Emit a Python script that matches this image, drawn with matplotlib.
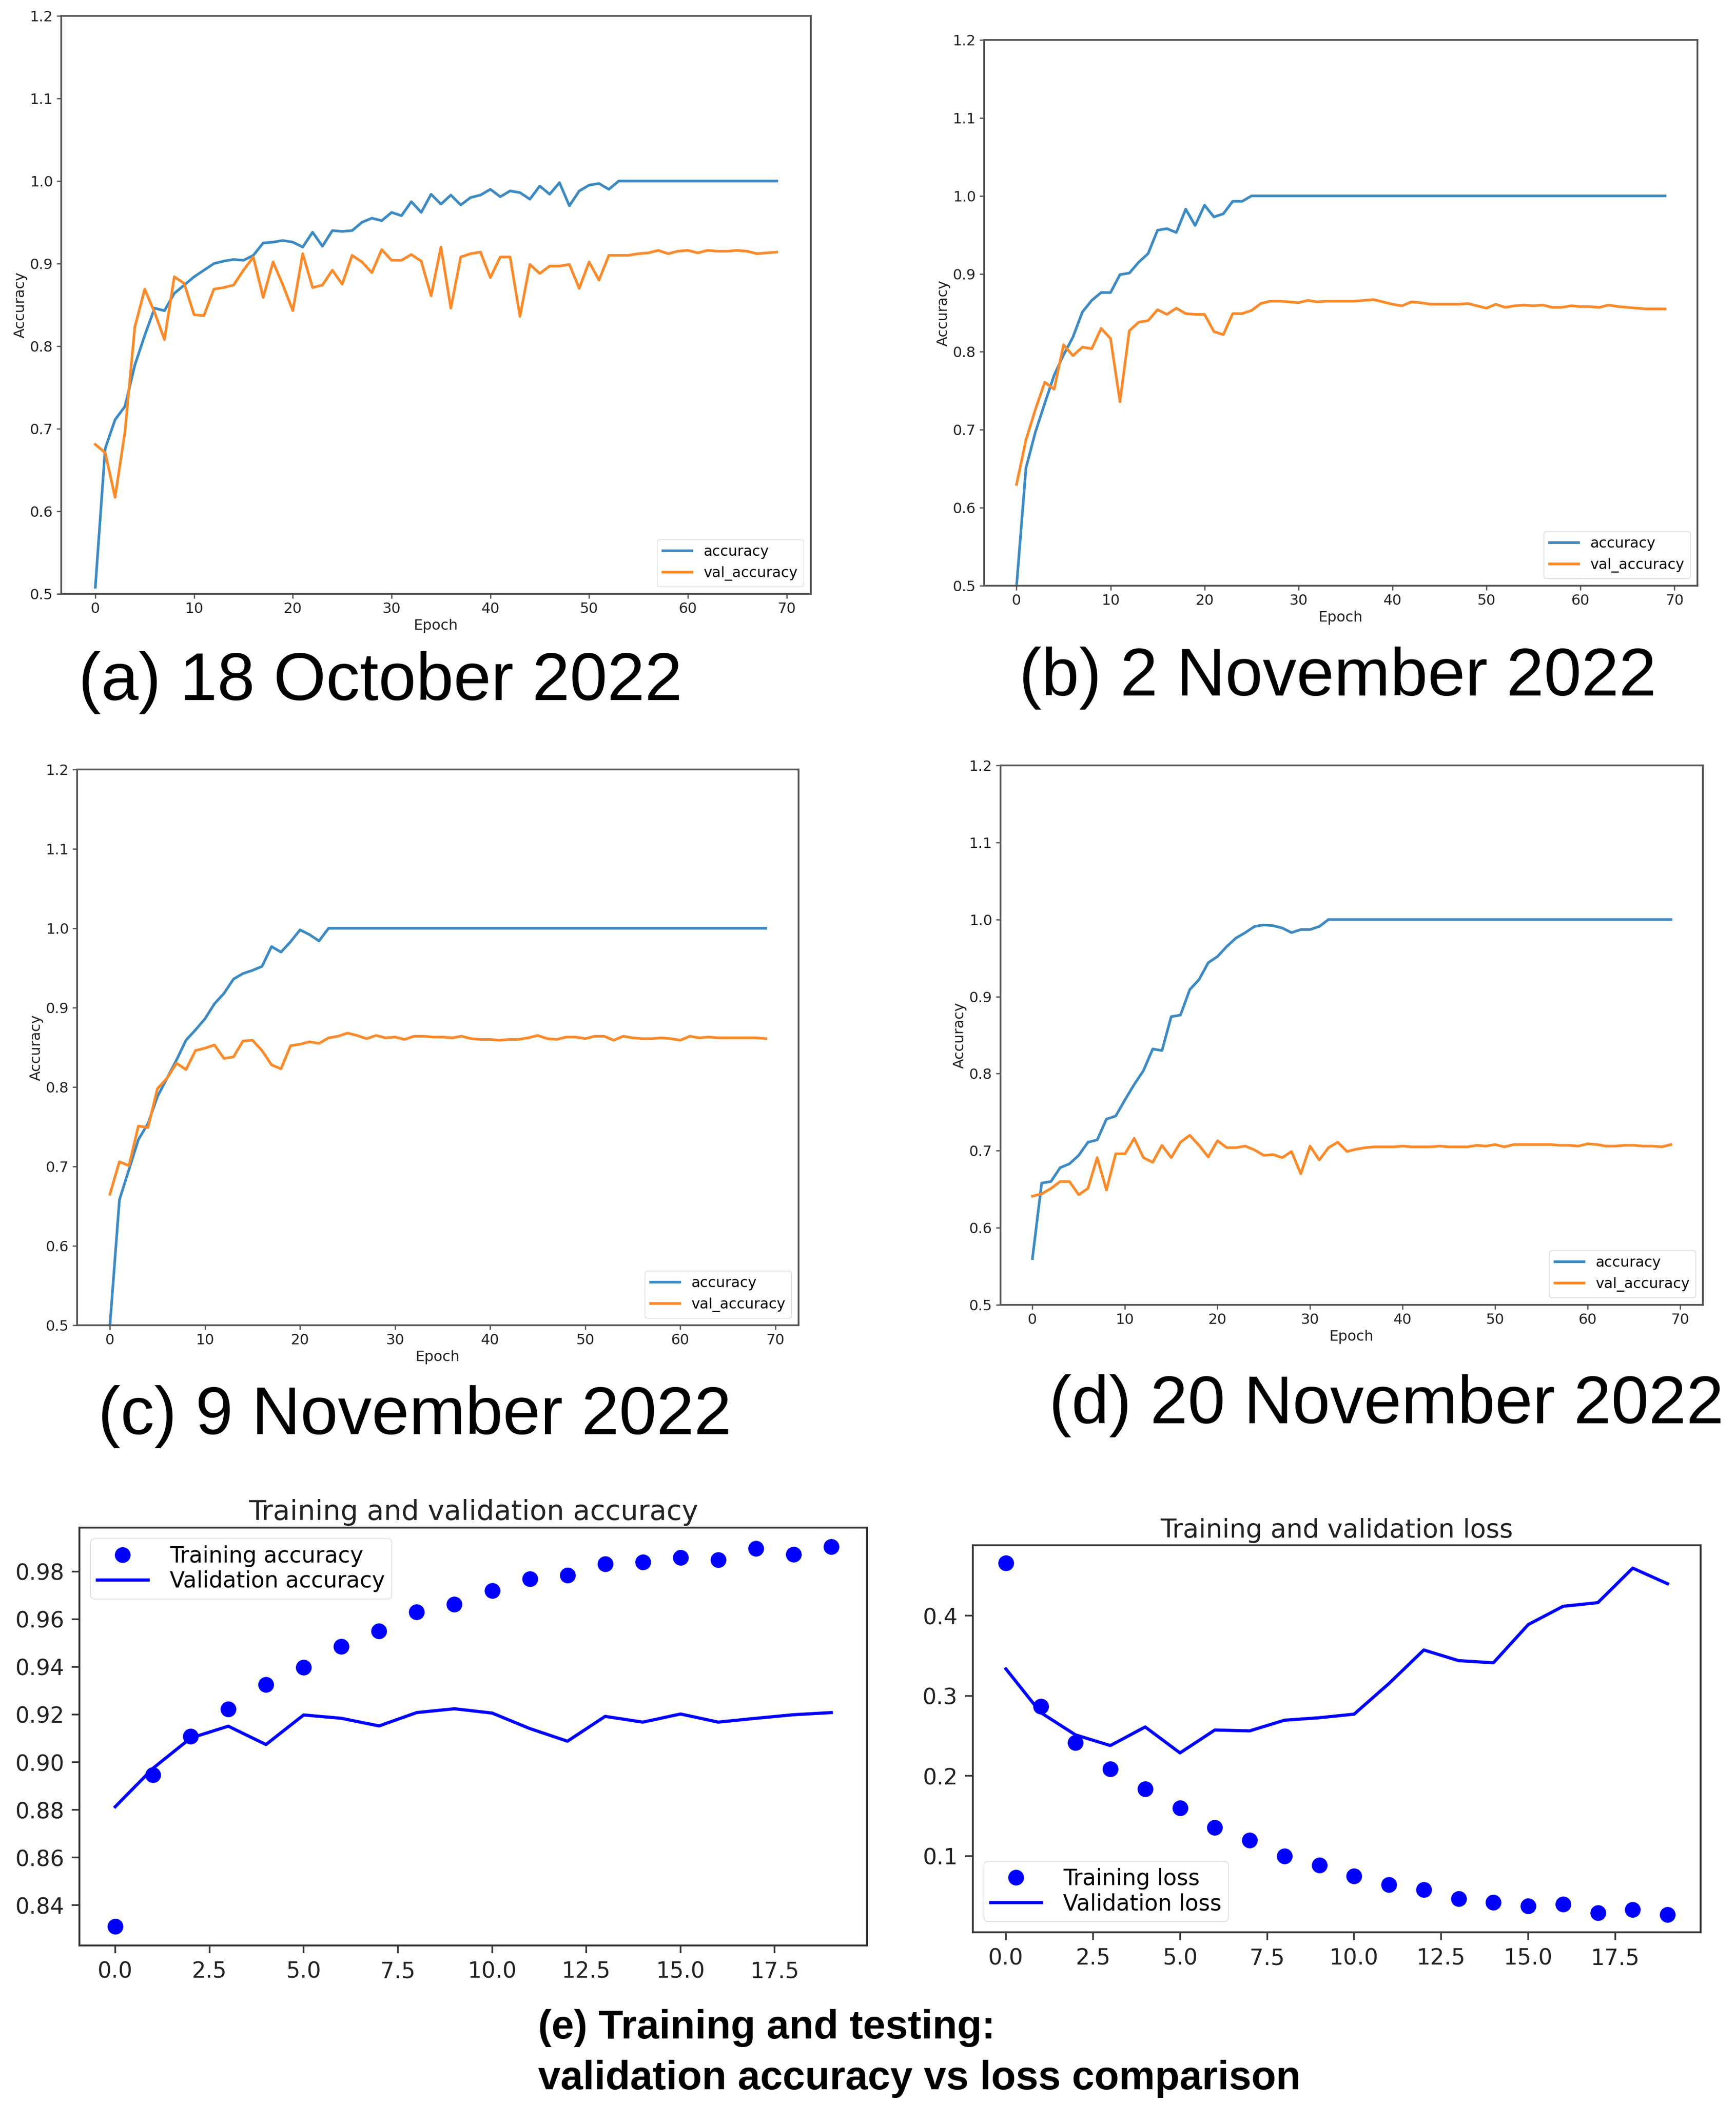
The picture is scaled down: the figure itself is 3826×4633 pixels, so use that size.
import matplotlib
matplotlib.use('Agg')
import matplotlib.pyplot as plt
import numpy as np

# ---------------- data ----------------
epochs70 = list(range(70))
epochs20 = list(range(20))

acc_ticks_x = [0, 10, 20, 30, 40, 50, 60, 70]
acc_ticks_y = [0.5, 0.6, 0.7, 0.8, 0.9, 1.0, 1.1, 1.2]

acc_a = [0.508, 0.676, 0.711, 0.727, 0.777, 0.813, 0.846, 0.843, 0.864, 0.874,
         0.884, 0.892, 0.900, 0.903, 0.905, 0.904, 0.910, 0.925, 0.926, 0.928,
         0.926, 0.920, 0.938, 0.921, 0.940, 0.939, 0.940, 0.950, 0.955, 0.952,
         0.962, 0.958, 0.975, 0.962, 0.984, 0.972, 0.983, 0.971, 0.980, 0.983,
         0.990, 0.981, 0.988, 0.986, 0.978, 0.994, 0.984, 0.998, 0.970, 0.988,
         0.995, 0.997, 0.990, 1.000, 1.000, 1.000, 1.000, 1.000, 1.000, 1.000,
         1.000, 1.000, 1.000, 1.000, 1.000, 1.000, 1.000, 1.000, 1.000, 1.000]
val_a = [0.681, 0.671, 0.617, 0.696, 0.823, 0.869, 0.841, 0.808, 0.884, 0.876,
         0.838, 0.837, 0.869, 0.871, 0.874, 0.892, 0.908, 0.859, 0.902, 0.874,
         0.843, 0.912, 0.871, 0.874, 0.892, 0.875, 0.910, 0.902, 0.889, 0.917,
         0.904, 0.904, 0.911, 0.903, 0.861, 0.920, 0.846, 0.908, 0.912, 0.914,
         0.883, 0.908, 0.908, 0.836, 0.899, 0.888, 0.897, 0.897, 0.899, 0.870,
         0.902, 0.880, 0.910, 0.910, 0.910, 0.912, 0.913, 0.916, 0.912, 0.915,
         0.916, 0.913, 0.916, 0.915, 0.915, 0.916, 0.915, 0.912, 0.913, 0.914]

acc_b = [0.500, 0.651, 0.697, 0.734, 0.770, 0.796, 0.819, 0.851, 0.866, 0.876,
         0.876, 0.899, 0.901, 0.915, 0.926, 0.956, 0.958, 0.953, 0.983, 0.962,
         0.988, 0.973, 0.977, 0.993, 0.993, 1.000, 1.000, 1.000, 1.000, 1.000,
         1.000, 1.000, 1.000, 1.000, 1.000, 1.000, 1.000, 1.000, 1.000, 1.000,
         1.000, 1.000, 1.000, 1.000, 1.000, 1.000, 1.000, 1.000, 1.000, 1.000,
         1.000, 1.000, 1.000, 1.000, 1.000, 1.000, 1.000, 1.000, 1.000, 1.000,
         1.000, 1.000, 1.000, 1.000, 1.000, 1.000, 1.000, 1.000, 1.000, 1.000]
val_b = [0.630, 0.687, 0.726, 0.761, 0.752, 0.809, 0.795, 0.806, 0.804, 0.830,
         0.817, 0.736, 0.827, 0.838, 0.840, 0.854, 0.848, 0.856, 0.849, 0.848,
         0.848, 0.826, 0.822, 0.849, 0.849, 0.853, 0.862, 0.865, 0.865, 0.864,
         0.863, 0.866, 0.864, 0.865, 0.865, 0.865, 0.865, 0.866, 0.867, 0.864,
         0.861, 0.859, 0.864, 0.863, 0.861, 0.861, 0.861, 0.861, 0.862, 0.859,
         0.856, 0.861, 0.857, 0.859, 0.860, 0.859, 0.860, 0.857, 0.857, 0.859,
         0.858, 0.858, 0.857, 0.860, 0.858, 0.857, 0.856, 0.855, 0.855, 0.855]

acc_c = [0.500, 0.658, 0.696, 0.734, 0.754, 0.788, 0.811, 0.834, 0.859, 0.872,
         0.886, 0.905, 0.918, 0.936, 0.943, 0.947, 0.952, 0.977, 0.970, 0.983,
         0.998, 0.992, 0.984, 1.000, 1.000, 1.000, 1.000, 1.000, 1.000, 1.000,
         1.000, 1.000, 1.000, 1.000, 1.000, 1.000, 1.000, 1.000, 1.000, 1.000,
         1.000, 1.000, 1.000, 1.000, 1.000, 1.000, 1.000, 1.000, 1.000, 1.000,
         1.000, 1.000, 1.000, 1.000, 1.000, 1.000, 1.000, 1.000, 1.000, 1.000,
         1.000, 1.000, 1.000, 1.000, 1.000, 1.000, 1.000, 1.000, 1.000, 1.000]
val_c = [0.665, 0.706, 0.701, 0.751, 0.749, 0.798, 0.811, 0.830, 0.822, 0.846,
         0.849, 0.853, 0.836, 0.838, 0.858, 0.859, 0.846, 0.828, 0.823, 0.852,
         0.854, 0.857, 0.855, 0.862, 0.864, 0.868, 0.865, 0.861, 0.865, 0.862,
         0.863, 0.860, 0.864, 0.864, 0.863, 0.863, 0.862, 0.864, 0.861, 0.860,
         0.860, 0.859, 0.860, 0.860, 0.862, 0.865, 0.861, 0.860, 0.863, 0.863,
         0.861, 0.864, 0.864, 0.859, 0.864, 0.862, 0.861, 0.861, 0.862, 0.861,
         0.859, 0.864, 0.862, 0.863, 0.862, 0.862, 0.862, 0.862, 0.862, 0.861]

acc_d = [0.560, 0.658, 0.660, 0.678, 0.683, 0.694, 0.711, 0.714, 0.741, 0.745,
         0.766, 0.786, 0.804, 0.832, 0.830, 0.874, 0.876, 0.909, 0.922, 0.944,
         0.952, 0.965, 0.976, 0.983, 0.991, 0.993, 0.992, 0.989, 0.983, 0.987,
         0.987, 0.991, 1.000, 1.000, 1.000, 1.000, 1.000, 1.000, 1.000, 1.000,
         1.000, 1.000, 1.000, 1.000, 1.000, 1.000, 1.000, 1.000, 1.000, 1.000,
         1.000, 1.000, 1.000, 1.000, 1.000, 1.000, 1.000, 1.000, 1.000, 1.000,
         1.000, 1.000, 1.000, 1.000, 1.000, 1.000, 1.000, 1.000, 1.000, 1.000]
val_d = [0.641, 0.644, 0.651, 0.660, 0.660, 0.643, 0.651, 0.691, 0.649, 0.696,
         0.696, 0.716, 0.691, 0.685, 0.707, 0.691, 0.711, 0.720, 0.707, 0.692,
         0.713, 0.704, 0.704, 0.706, 0.701, 0.694, 0.695, 0.691, 0.699, 0.670,
         0.706, 0.688, 0.704, 0.711, 0.699, 0.702, 0.704, 0.705, 0.705, 0.705,
         0.706, 0.705, 0.705, 0.705, 0.706, 0.705, 0.705, 0.705, 0.707, 0.706,
         0.708, 0.705, 0.708, 0.708, 0.708, 0.708, 0.708, 0.707, 0.707, 0.706,
         0.709, 0.708, 0.706, 0.706, 0.707, 0.707, 0.706, 0.706, 0.705, 0.708]

train_acc = [0.8311, 0.8947, 0.9108, 0.9222, 0.9326, 0.9398, 0.9485, 0.9550, 0.9630, 0.9663,
             0.9720, 0.9768, 0.9784, 0.9831, 0.9840, 0.9858, 0.9848, 0.9896, 0.9871, 0.9904]
val_acc_e = [0.8813, 0.8974, 0.9101, 0.9151, 0.9074, 0.9198, 0.9184, 0.9152, 0.9208, 0.9224,
             0.9206, 0.9141, 0.9088, 0.9192, 0.9168, 0.9202, 0.9168, 0.9184, 0.9199, 0.9208]
train_loss = [0.466, 0.2868, 0.2418, 0.2086, 0.1838, 0.1602, 0.1354, 0.1198, 0.1000, 0.0885,
              0.0752, 0.0645, 0.058, 0.0466, 0.042, 0.0378, 0.040, 0.0294, 0.0332, 0.0268]
val_loss = [0.3337, 0.2791, 0.2513, 0.238, 0.2612, 0.2288, 0.2574, 0.2563, 0.2696, 0.2727,
            0.2772, 0.3154, 0.3573, 0.344, 0.3413, 0.389, 0.4118, 0.4164, 0.4595, 0.44]

e_ticks_x = [0.0, 2.5, 5.0, 7.5, 10.0, 12.5, 15.0, 17.5]
e_ticks_y = [0.84, 0.86, 0.88, 0.90, 0.92, 0.94, 0.96, 0.98]
f_ticks_y = [0.1, 0.2, 0.3, 0.4]

captions = ["(a) 18 October 2022", "(b) 2 November 2022",
            "(c) 9 November 2022", "(d) 20 November 2022"]
caption_e = ["(e) Training and testing:", "validation accuracy vs loss comparison"]

# ---------------- layout ----------------
W, H = 3826, 4633
fig = plt.figure(figsize=(W / 100, H / 100), dpi=100)
fig.patch.set_facecolor('white')


def rect(l, t, r, b):
    return [l / W, 1 - b / H, (r - l) / W, (b - t) / H]


BLUE = '#3d8ac3'
ORANGE = '#fa8a2a'
SPINE = '#555555'
FS = 23


def acc_panel(r, acc, val):
    ax = fig.add_axes(r)
    ax.plot(epochs70, acc, color=BLUE, lw=4.2, label='accuracy')
    ax.plot(epochs70, val, color=ORANGE, lw=4.2, label='val_accuracy')
    ax.set_ylim(0.5, 1.2)
    ax.set_xticks(acc_ticks_x)
    ax.set_yticks(acc_ticks_y)
    ax.set_xlabel('Epoch', fontsize=FS, color='#222222')
    ax.set_ylabel('Accuracy', fontsize=FS, color='#222222')
    ax.tick_params(labelsize=FS, length=7, width=2, color=SPINE,
                   labelcolor='#222222', pad=6)
    for s in ax.spines.values():
        s.set_linewidth(2.8)
        s.set_color(SPINE)
    ax.legend(loc='lower right', fontsize=FS)
    return ax


acc_panel(rect(135, 35, 1787, 1309), acc_a, val_a)
acc_panel(rect(2169, 88, 3741, 1291), acc_b, val_b)
acc_panel(rect(170, 1696, 1760, 2921), acc_c, val_c)
acc_panel(rect(2205, 1687, 3753, 2876), acc_d, val_d)

cap_font = dict(family='Liberation Sans', fontsize=107, color='black',
                ha='center', va='center')
fig.text(838 / W, 1 - 1504 / H, captions[0], **cap_font)
fig.text(2948 / W, 1 - 1495 / H, captions[1], **cap_font)
fig.text(914 / W, 1 - 3123 / H, captions[2], **cap_font)
fig.text(3056 / W, 1 - 3099 / H, captions[3], **cap_font)

FS2 = 35


def style_lower(ax):
    ax.tick_params(labelsize=FS2, length=12, width=2.6, color='#333333',
                   labelcolor='#222222', pad=12)
    for s in ax.spines.values():
        s.set_linewidth(3.0)
        s.set_color('#333333')


ax_e = fig.add_axes(rect(175, 3367, 1911, 4288))
ax_e.plot(epochs20, train_acc, 'bo', ms=24, label='Training accuracy')
ax_e.plot(epochs20, val_acc_e, 'b', lw=5, label='Validation accuracy')
ax_e.set_xticks(e_ticks_x)
ax_e.set_yticks(e_ticks_y)
ax_e.set_title('Training and validation accuracy', fontsize=44, pad=12, color='#222222')
style_lower(ax_e)
ax_e.legend(loc='upper left', fontsize=FS2, labelspacing=0.15, borderpad=0.3,
            handlelength=2.3, handletextpad=1.0)

ax_f = fig.add_axes(rect(2144, 3406, 3748, 4259))
ax_f.plot(epochs20, train_loss, 'bo', ms=24, label='Training loss')
ax_f.plot(epochs20, val_loss, 'b', lw=5, label='Validation loss')
ax_f.set_xticks(e_ticks_x)
ax_f.set_yticks(f_ticks_y)
ax_f.set_title('Training and validation loss', fontsize=41, pad=12, color='#222222')
style_lower(ax_f)
ax_f.legend(loc='lower left', fontsize=FS2, labelspacing=0.15, borderpad=0.3,
            handlelength=2.3, handletextpad=1.0)

cap_e_font = dict(family='Liberation Sans', fontsize=64, fontweight='bold',
                  color='black', ha='left', va='center')
fig.text(1186 / W, 1 - 4470 / H, caption_e[0], **cap_e_font)
fig.text(1186 / W, 1 - 4582 / H, caption_e[1], **cap_e_font)

fig.savefig('out.png', dpi=100, facecolor='white')
